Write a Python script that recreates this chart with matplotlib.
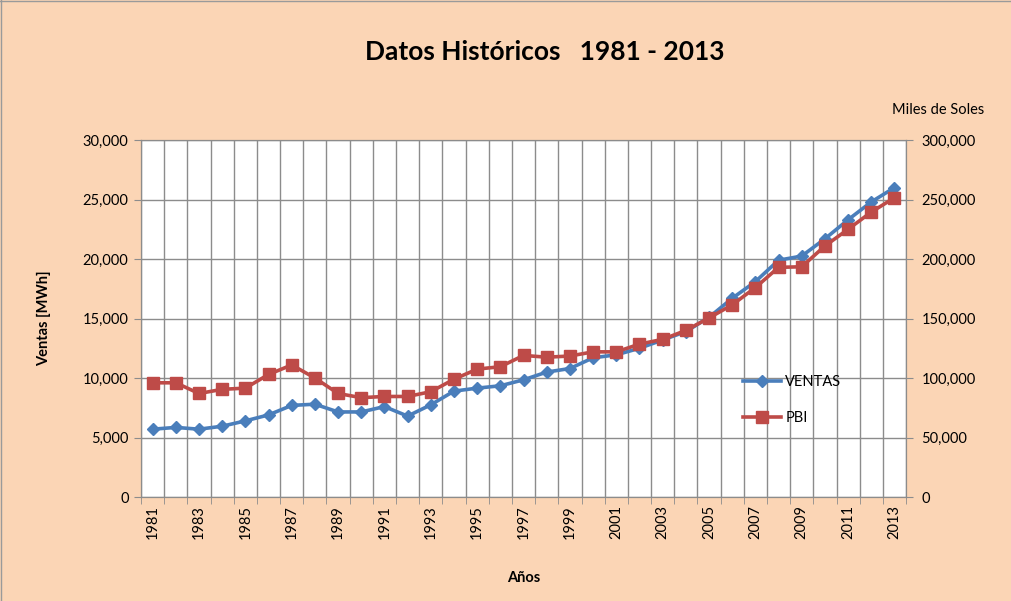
import matplotlib.pyplot as plt
import numpy as np
from matplotlib.ticker import FuncFormatter

plt.rcParams['font.family'] = ['Lato', 'DejaVu Sans']

years = list(range(1981, 2014))
ventas = [5700, 5850, 5700, 5950, 6400, 6900, 7700, 7800, 7150, 7150, 7600, 6800, 7750,
          8900, 9150, 9350, 9850, 10500, 10800, 11700, 11950, 12500, 13200, 13900, 15100,
          16700, 18100, 19900, 20250, 21700, 23300, 24800, 26000]
pbi = [96000, 96000, 87000, 90500, 91500, 103000, 111000, 100000, 87000, 83500, 84500,
       84500, 88500, 99000, 107500, 109500, 119000, 117500, 118500, 122000, 122000, 128500,
       132500, 140000, 150500, 161500, 176000, 193000, 193500, 211000, 225000, 239500, 251500]

bg = '#FBD5B5'
blue = '#4A7EBB'
red = '#BE4B48'
grid_c = '#8C8C8C'

fig = plt.figure(figsize=(10.11, 6.01), dpi=100, facecolor=bg)
ax = fig.add_axes([0.1395, 0.173, 0.7567, 0.594])
ax2 = ax.twinx()

x = np.arange(len(years))
ax.plot(x, ventas, color=blue, lw=2.6, marker='D', ms=6.5, label='VENTAS')
ax2.plot(x, pbi, color=red, lw=2.6, marker='s', ms=8.5, label='PBI')

ax.set_xlim(-0.5, len(years) - 0.5)
ax.set_ylim(0, 30000)
ax2.set_ylim(0, 300000)
ax.set_yticks(np.arange(0, 30001, 5000))
ax2.set_yticks(np.arange(0, 300001, 50000))
fmt = FuncFormatter(lambda v, p: f'{int(v):,}')
ax.yaxis.set_major_formatter(fmt)
ax2.yaxis.set_major_formatter(fmt)

ax.set_xticks(x[::2])
ax.set_xticklabels([str(y) for y in years[::2]], rotation=90)
ax.set_xticks(np.arange(-0.5, len(years), 1), minor=True)
ax.tick_params(axis='x', which='major', length=0, pad=6, labelsize=10.5)
ax.tick_params(axis='x', which='minor', length=5, color=grid_c)
ax.tick_params(axis='y', length=5, color=grid_c, labelsize=10.5, pad=4)
ax2.tick_params(axis='y', length=5, color=grid_c, labelsize=10.5, pad=6)

ax.grid(True, axis='x', which='minor', color=grid_c, lw=1)
ax.grid(True, axis='y', which='major', color=grid_c, lw=1)
ax.set_axisbelow(True)
for a in (ax, ax2):
    for s in a.spines.values():
        s.set_color(grid_c)

ax.set_ylabel('Ventas [MWh]', fontsize=10.5, fontweight='bold', labelpad=23)
ax.set_xlabel('Años', fontsize=10.5, fontweight='bold', labelpad=23)
fig.text(0.539, 0.913, 'Datos Históricos   1981 - 2013', ha='center', va='center',
         fontsize=19, fontweight='bold')
fig.text(0.928, 0.817, 'Miles de Soles', ha='center', va='center', fontsize=10.5)

h1, l1 = ax.get_legend_handles_labels()
h2, l2 = ax2.get_legend_handles_labels()
fig.legend(h1 + h2, l1 + l2, loc='center left', bbox_to_anchor=(0.722, 0.334),
           frameon=False, fontsize=10.5, labelspacing=1.5, handlelength=2.6,
           handletextpad=0.3)

# thin frame at the top and left edges, as in the original export
fig.add_artist(plt.Line2D([0, 1], [0.998, 0.998], transform=fig.transFigure, color='#9A9A9A', lw=1))
fig.add_artist(plt.Line2D([0.001, 0.001], [0, 1], transform=fig.transFigure, color='#9A9A9A', lw=1))

fig.savefig('out.png', dpi=100, facecolor=bg)
